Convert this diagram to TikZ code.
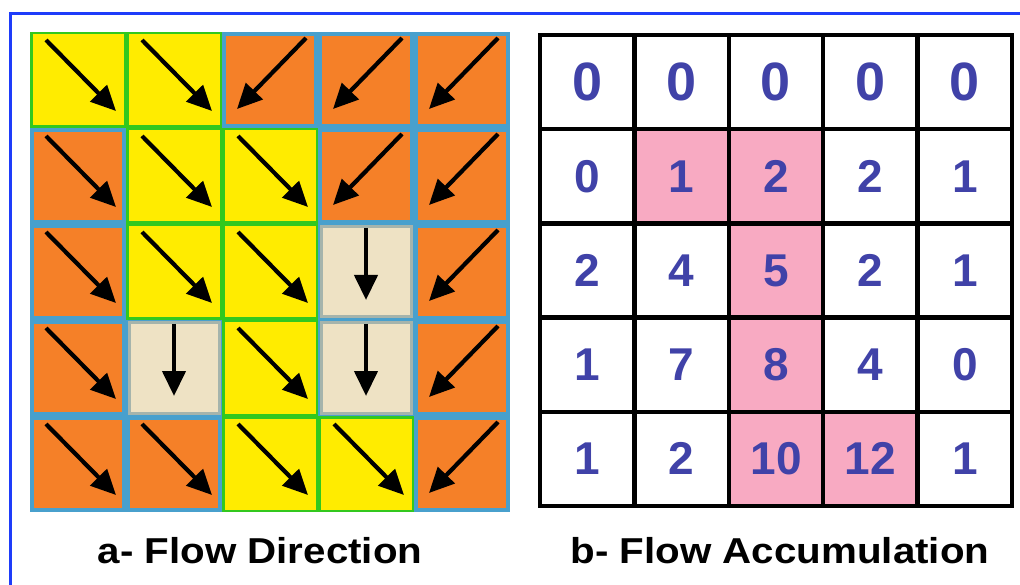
\documentclass[tikz,border=0pt]{standalone}
\usepackage{fontspec}
\usepackage{graphicx}
\setmainfont{Liberation Sans}
\usetikzlibrary{arrows.meta,calc}

\definecolor{frameblue}{RGB}{30,60,250}
\definecolor{cellyellow}{RGB}{255,236,0}
\definecolor{cellorange}{RGB}{245,128,40}
\definecolor{cellbeige}{RGB}{238,226,196}
\definecolor{edgeblue}{RGB}{72,160,205}
\definecolor{edgegreen}{RGB}{50,200,30}
\definecolor{edgegray}{RGB}{165,180,172}
\definecolor{accpink}{RGB}{248,170,194}
\definecolor{numblue}{RGB}{64,66,168}

\tikzset{
  fdO/.style={rectangle, inner sep=0pt, outer sep=0pt, minimum size=88pt, fill=cellorange},
  fdY/.style={rectangle, inner sep=0pt, outer sep=0pt, minimum size=93.5pt, fill=cellyellow, draw=edgegreen, line width=2.5pt},
  fdB/.style={rectangle, inner sep=0pt, outer sep=0pt, minimum size=90pt, fill=cellbeige, draw=edgegray, line width=3pt},
  flow/.style={draw=black, line width=4.2pt, -{Triangle[length=25pt,width=23pt]}},
  accW/.style={rectangle, inner sep=0pt, outer sep=0pt, minimum width=94.4pt, minimum height=94.2pt,
    fill=white, draw=black, line width=4.5pt, text=numblue, font=\bfseries\fontsize{46}{46}\selectfont},
  accP/.style={accW, fill=accpink},
  caption/.style={font=\bfseries\fontsize{36}{40}\selectfont, text=black, anchor=base, inner sep=0pt}
}

\begin{document}
\begin{tikzpicture}[x=1pt,y=-1pt]
\useasboundingbox (0,0) rectangle (1020,585);
\fill[white] (0,0) rectangle (1020,585);

% outer frame (only the top and left sides fall inside the page)
\draw[frameblue, line width=3pt] (10,585) -- (10,14) -- (1020,14);

% ---------- a: flow direction grid ----------
\fill[edgeblue] (30,32) rectangle (510,512);
\foreach \c/\r/\k in {
  1/1/Y, 2/1/Y, 3/1/O, 4/1/O, 5/1/O,
  1/2/O, 2/2/Y, 3/2/Y, 4/2/O, 5/2/O,
  1/3/O, 2/3/Y, 3/3/Y, 4/3/B, 5/3/O,
  1/4/O, 2/4/B, 3/4/Y, 4/4/B, 5/4/O,
  1/5/O, 2/5/O, 3/5/Y, 4/5/Y, 5/5/O}
  \node[fd\k] (a-\c-\r) at ({30+96*(\c-0.5)},{32+96*(\r-0.5)}) {};

% south-east
\foreach \n in {a-1-1, a-2-1, a-1-2, a-2-2, a-3-2, a-1-3, a-2-3, a-3-3,
                a-1-4, a-3-4, a-1-5, a-2-5, a-3-5, a-4-5}
  \draw[flow] ($(\n)+(-32,-40)$) -- ($(\n)+(38,31)$);
% south-west
\foreach \n in {a-3-1, a-4-1, a-5-1, a-4-2, a-5-2, a-5-3, a-5-4, a-5-5}
  \draw[flow] ($(\n)+(36,-42)$) -- ($(\n)+(-33,29)$);
% south
\foreach \n in {a-4-3, a-2-4, a-4-4}
  \draw[flow] ($(\n)+(0,-44)$) -- ($(\n)+(0,28)$);

% ---------- b: flow accumulation grid ----------
\foreach \c/\r/\v/\k in {
  1/1/0/W, 2/1/0/W, 3/1/0/W, 4/1/0/W, 5/1/0/W,
  1/2/0/W, 2/2/1/P, 3/2/2/P, 4/2/2/W, 5/2/1/W,
  1/3/2/W, 2/3/4/W, 3/3/5/P, 4/3/2/W, 5/3/1/W,
  1/4/1/W, 2/4/7/W, 3/4/8/P, 4/4/4/W, 5/4/0/W,
  1/5/1/W, 2/5/2/W, 3/5/10/P, 4/5/12/P, 5/5/1/W}
  \node[acc\k] (b-\c-\r) at ({540+94.4*(\c-0.5)},{35+94.2*(\r-0.5)})
    {\ifnum\r=1 \fontsize{54}{54}\selectfont\fi\v};

% ---------- captions ----------
\node[caption] (capA) at (260,563) {\scalebox{1.12}[1]{a- Flow Direction}};
\node[caption] (capB) at (780,563) {\scalebox{1.12}[1]{b- Flow Accumulation}};
\end{tikzpicture}
\end{document}
